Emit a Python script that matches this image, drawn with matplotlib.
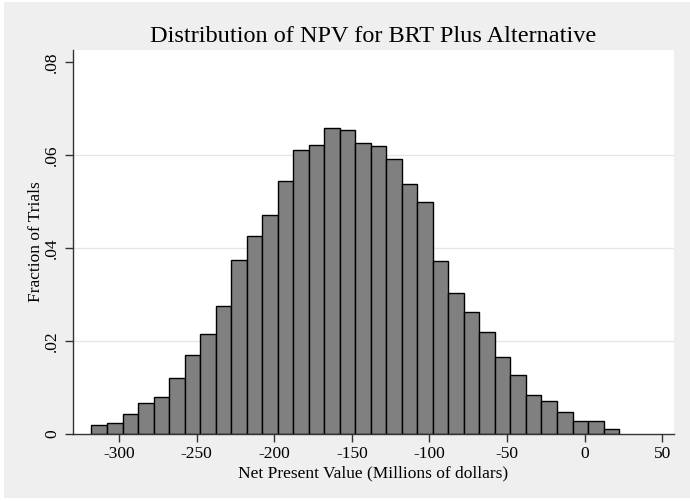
import numpy as np
import matplotlib.pyplot as plt
from matplotlib.patches import Rectangle

plt.rcParams['font.family'] = ['Liberation Serif', 'DejaVu Serif']

# histogram data: bins of 10 (millions of dollars), fraction of trials
bin_start = -317.8
bin_width = 10
fractions = [0.0019, 0.0023, 0.0044, 0.0067, 0.0080, 0.0120, 0.0170, 0.0215,
             0.0276, 0.0375, 0.0426, 0.0472, 0.0544, 0.0610, 0.0622, 0.0659,
             0.0653, 0.0626, 0.0620, 0.0592, 0.0537, 0.0499, 0.0372, 0.0303,
             0.0262, 0.0219, 0.0166, 0.0127, 0.0084, 0.0071, 0.0047, 0.0029,
             0.0027, 0.0010]
xticks = [-300, -250, -200, -150, -100, -50, 0, 50]
yticks = [0, 0.02, 0.04, 0.06, 0.08]
ytick_labels = ['0', '.02', '.04', '.06', '.08']

lefts = bin_start + bin_width * np.arange(len(fractions))

fig = plt.figure(figsize=(6.9, 5.01), dpi=100, facecolor='white')
# light gray outer region (behind the axes)
fig.patches.append(Rectangle((4 / 690, 3 / 501), 1, 1 - 5 / 501,
                             transform=fig.transFigure, facecolor='#efefef',
                             edgecolor='none', zorder=-10))

ax = fig.add_axes([72.7 / 690, 67 / 501, 601.3 / 690, 384 / 501])
ax.set_facecolor('white')

for y in [0.02, 0.04, 0.06]:
    ax.axhline(y, color='#e6e6e6', lw=1.0, zorder=0)

ax.bar(lefts, fractions, width=bin_width, align='edge', color='#808080',
       edgecolor='black', linewidth=1.0, zorder=2)

ax.set_xlim(-329.9, 57.6)
ax.set_ylim(0, 0.0826)

ax.spines['top'].set_visible(False)
ax.spines['right'].set_visible(False)
for s in ['left', 'bottom']:
    ax.spines[s].set_color('#333333')
    ax.spines[s].set_linewidth(1.0)
    ax.spines[s].set_zorder(3)

ax.set_xticks(xticks)
ax.set_xticklabels([str(v) for v in xticks])
ax.set_yticks(yticks)
ax.set_yticklabels(ytick_labels, rotation=90, va='center')
ax.tick_params(axis='both', direction='out', length=6, width=1.0,
               color='#333333', labelsize=12.5, pad=3)

ax.set_xlabel('Net Present Value (Millions of dollars)', fontsize=12.5, labelpad=2)
ax.set_ylabel('Fraction of Trials', fontsize=12.5, labelpad=0)
ax.set_title('Distribution of NPV for BRT Plus Alternative', fontsize=17.5, pad=6)

fig.savefig('out.png', dpi=100, facecolor=fig.get_facecolor())
